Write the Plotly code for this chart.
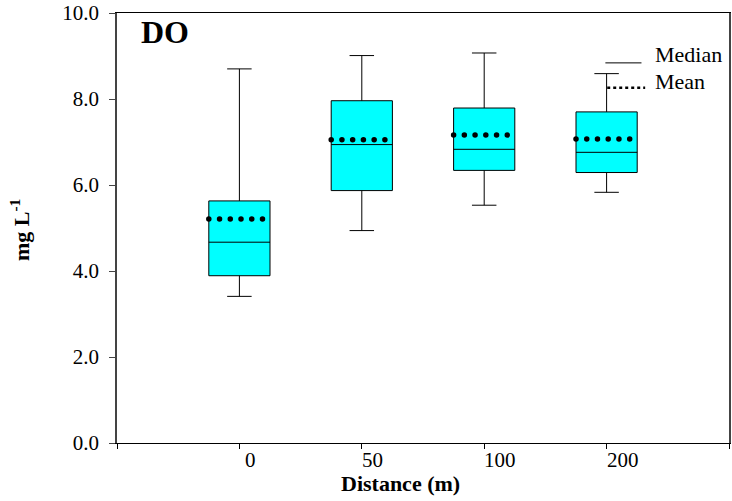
import numpy as np
import plotly.graph_objects as go

categories = ["0", "50", "100", "200"]
upper_whisker = [8.70, 9.01, 9.07, 8.59]
q3_values = [5.63, 7.96, 7.79, 7.70]
median_values = [4.67, 6.94, 6.83, 6.76]
q1_values = [3.89, 5.87, 6.34, 6.29]
lower_whisker = [3.41, 4.94, 5.53, 5.83]
mean_values = [5.21, 7.05, 7.16, 7.07]
y_ticks = [0, 2, 4, 6, 8, 10]
y_tick_labels = ["0.0", "2.0", "4.0", "6.0", "8.0", "10.0"]

FONT = "Liberation Serif, Times New Roman, serif"
BOX_W = 0.5
pos = list(range(len(categories)))

fig = go.Figure()
for i, c in enumerate(categories):
    fig.add_trace(go.Box(
        x=[pos[i]], q1=[q1_values[i]], median=[median_values[i]], q3=[q3_values[i]],
        lowerfence=[lower_whisker[i]], upperfence=[upper_whisker[i]],
        width=BOX_W, whiskerwidth=0.4, fillcolor="#00FFFF",
        line=dict(color="black", width=1), boxpoints=False, showlegend=False,
        hoverinfo="skip",
    ))

# mean shown as row of dots across the box
offsets = -BOX_W / 2 + np.arange(6) * (BOX_W / 5.7)
mx, my = [], []
for i in pos:
    for o in offsets:
        mx.append(pos[i] + o)
        my.append(mean_values[i])
fig.add_trace(go.Scatter(x=mx, y=my, mode="markers",
                         marker=dict(color="black", size=5.5),
                         showlegend=False, hoverinfo="skip"))

# x tick labels (left-aligned at tick)
for i, c in enumerate(categories):
    fig.add_annotation(x=pos[i], y=0, xref="x", yref="paper", text=c,
                       showarrow=False, xanchor="left", yanchor="top",
                       xshift=4 if i == 0 else -2, yshift=-3,
                       font=dict(family=FONT, size=21, color="black"))

# legend drawn manually
fig.add_shape(type="line", xref="paper", yref="paper", x0=0.798, x1=0.857,
              y0=0.884, y1=0.884, line=dict(color="black", width=1))
fig.add_shape(type="line", xref="paper", yref="paper", x0=0.801, x1=0.863,
              y0=0.826, y1=0.826, line=dict(color="black", width=2.5, dash="dot"))
fig.add_annotation(x=0.876, y=0.904, xref="paper", yref="paper", text="Median",
                   showarrow=False, xanchor="left", yanchor="middle",
                   font=dict(family=FONT, size=22, color="black"))
fig.add_annotation(x=0.876, y=0.840, xref="paper", yref="paper", text="Mean",
                   showarrow=False, xanchor="left", yanchor="middle",
                   font=dict(family=FONT, size=22, color="black"))

fig.add_annotation(x=0.078, y=0.955, xref="paper", yref="paper", text="<b>DO</b>",
                   showarrow=False, xanchor="center", yanchor="middle",
                   font=dict(family=FONT, size=32, color="black"))

fig.add_annotation(x=(401 - 117) / 614, y=-(484 - 443.3) / 430, xref="paper", yref="paper",
                   text="<b>Distance (m)</b>", showarrow=False,
                   xanchor="center", yanchor="middle",
                   font=dict(family=FONT, size=22, color="black"))
fig.add_annotation(x=(19 - 117) / 614, y=0.496, xref="paper", yref="paper",
                   text="<b>mg L<sup>-1</sup></b>", showarrow=False, textangle=-90,
                   xanchor="center", yanchor="middle",
                   font=dict(family=FONT, size=22, color="black"))

fig.update_layout(
    width=732, height=501,
    margin=dict(l=117, r=1, t=13, b=58),
    paper_bgcolor="white", plot_bgcolor="white",
    font=dict(family=FONT, size=20, color="black"),
    xaxis=dict(range=[-1, 4], tickvals=[-1, 0, 1, 2, 3, 4], showticklabels=False,
               ticks="outside", ticklen=5, tickcolor="black", showgrid=False,
               zeroline=False, showline=True, linecolor="black", linewidth=1,
               mirror=True),
    yaxis=dict(range=[0, 10], tickvals=y_ticks, ticktext=y_tick_labels,
               ticks="outside", ticklen=6, tickcolor="#444", showgrid=False,
               zeroline=False, showline=True, linecolor="#444", linewidth=1.5,
               mirror=True, ticklabelstandoff=6,
               tickfont=dict(family=FONT, size=21, color="black")),
)

fig.write_html("out.html", config={"displayModeBar": False},
               post_script="document.body.style.margin='0';document.body.style.overflow='hidden';")
